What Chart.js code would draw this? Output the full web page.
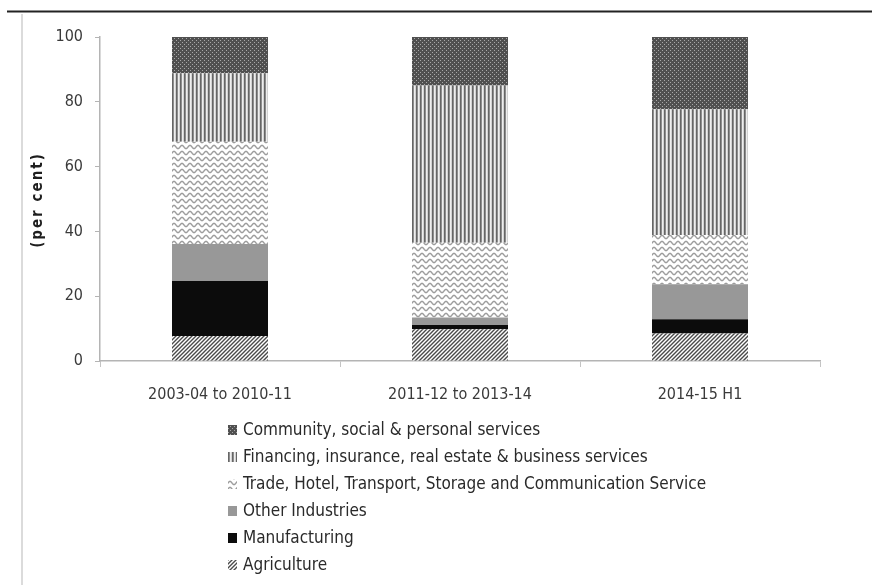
<!DOCTYPE html>
<html>
<head>
<meta charset="utf-8">
<script src="https://cdn.jsdelivr.net/npm/chart.js@4/dist/chart.umd.min.js"></script>
<style>
html,body{margin:0;padding:0;background:#fff;}
#wrap{width:872px;height:585px;}
</style>
</head>
<body>
<div id="wrap"><canvas id="c" width="872" height="585"></canvas></div>
<script>
const categories = ['2003-04 to 2010-11', '2011-12 to 2013-14', '2014-15 H1'];
const agriculture = [7.7, 9.8, 8.5];
const manufacturing = [17.0, 1.3, 4.4];
const otherIndustries = [11.4, 2.3, 10.8];
const tradeServices = [31.6, 23.1, 15.2];
const financingServices = [21.1, 48.5, 38.8];
const communityServices = [11.2, 15.0, 22.3];
const yTicks = [0, 20, 40, 60, 80, 100];
const seriesNames = [
  'Agriculture',
  'Manufacturing',
  'Other Industries',
  'Trade, Hotel, Transport, Storage and Communication Service',
  'Financing, insurance, real estate & business services',
  'Community, social & personal services'
];

const FONT = "'Liberation Sans Narrow', 'DejaVu Sans Condensed', 'Liberation Sans', sans-serif";
const canvas = document.getElementById('c');
const ctx = canvas.getContext('2d');

function makePattern(w, h, draw) {
  const c = document.createElement('canvas');
  c.width = w; c.height = h;
  const g = c.getContext('2d');
  draw(g, w, h);
  return ctx.createPattern(c, 'repeat');
}

const patCommunity = makePattern(4, 4, (g) => {
  g.fillStyle = '#505050'; g.fillRect(0, 0, 4, 4);
  g.fillStyle = '#a8a8a8'; g.fillRect(0, 0, 1, 1); g.fillRect(2, 2, 1, 1);
});
const patFinancing = makePattern(4, 4, (g) => {
  const cols = ['#666666', '#8e8e8e', '#eeeeee', '#d2d2d2'];
  cols.forEach((c, i) => { g.fillStyle = c; g.fillRect(i, 0, 1, 4); });
});
const patTrade = makePattern(8, 6, (g) => {
  g.fillStyle = '#ffffff'; g.fillRect(0, 0, 8, 6);
  g.strokeStyle = '#9c9c9c'; g.lineWidth = 1.4;
  g.beginPath();
  for (let x = -1; x <= 9; x += 0.5) {
    const y = 3 + 1.6 * Math.sin(2 * Math.PI * x / 8);
    if (x === -1) g.moveTo(x, y); else g.lineTo(x, y);
  }
  g.stroke();
});
const patAgri = makePattern(4, 4, (g) => {
  g.fillStyle = '#ffffff'; g.fillRect(0, 0, 4, 4);
  g.strokeStyle = '#4a4a4a'; g.lineWidth = 1.4;
  g.beginPath();
  g.moveTo(-1, 5); g.lineTo(5, -1);
  g.moveTo(-1, 1); g.lineTo(1, -1);
  g.moveTo(3, 5); g.lineTo(5, 3);
  g.stroke();
});

const fills = [patAgri, '#0c0c0c', '#989898', patTrade, patFinancing, patCommunity];
const seriesData = [agriculture, manufacturing, otherIndustries, tradeServices, financingServices, communityServices];

const datasets = seriesNames.map((name, i) => ({
  label: name,
  data: seriesData[i],
  backgroundColor: fills[i],
  borderWidth: 0,
  barPercentage: 0.4,
  categoryPercentage: 1.0
}));

const decorPlugin = {
  id: 'decor',
  beforeDraw(chart) {
    const c = chart.ctx;
    c.save();
    c.fillStyle = '#ffffff';
    c.fillRect(0, 0, chart.width, chart.height);
    c.strokeStyle = '#222';
    c.lineWidth = 2;
    c.beginPath(); c.moveTo(7, 11.5); c.lineTo(872, 11.5); c.stroke();
    c.strokeStyle = '#cfcfcf';
    c.lineWidth = 1.5;
    c.beginPath(); c.moveTo(22, 14); c.lineTo(22, 585); c.stroke();
    c.restore();
  },
  afterDraw(chart) {
    const c = chart.ctx;
    c.save();
    c.translate(38, 200);
    c.rotate(-Math.PI / 2);
    c.font = "bold 15px " + FONT;
    c.fillStyle = '#1e1e1e';
    c.textAlign = 'center';
    c.textBaseline = 'middle';
    c.letterSpacing = '2px';
    c.fillText('(per cent)', 0, 0);
    c.restore();

    c.save();
    c.font = "17px " + FONT;
    c.textBaseline = 'middle';
    const ds = chart.data.datasets;
    let y = 430;
    for (let i = ds.length - 1; i >= 0; i--) {
      c.fillStyle = ds[i].backgroundColor;
      c.fillRect(228, y - 5, 9, 10);
      c.fillStyle = '#2a2a2a';
      c.fillText(ds[i].label, 243, y + 1);
      y += 27;
    }
    c.restore();
  }
};

new Chart(canvas, {
  type: 'bar',
  data: { labels: categories, datasets },
  plugins: [decorPlugin],
  options: {
    responsive: false,
    animation: false,
    devicePixelRatio: 1,
    layout: { padding: { left: 0, right: 52, top: 37, bottom: 164 } },
    plugins: { legend: { display: false }, tooltip: { enabled: false }, title: { display: false } },
    scales: {
      x: {
        stacked: true,
        afterFit(scale) { scale.height = 60; },
        grid: { display: true, offset: true, drawOnChartArea: false, drawTicks: true, tickLength: 6, color: '#c4c4c4' },
        border: { display: true, color: '#b4b4b4', width: 1.5 },
        ticks: { color: '#3a3a3a', font: { family: FONT, size: 16 }, padding: 18, maxRotation: 0 }
      },
      y: {
        stacked: true,
        min: 0, max: 100,
        afterFit(scale) { scale.width = 100; },
        afterBuildTicks(scale) { scale.ticks = yTicks.map(v => ({ value: v })); },
        grid: { display: true, drawOnChartArea: false, drawTicks: true, tickLength: 5, color: '#b4b4b4' },
        border: { display: true, color: '#b4b4b4', width: 1.5 },
        ticks: { color: '#3a3a3a', font: { family: FONT, size: 16 }, padding: 12 }
      }
    }
  }
});
</script>
</body>
</html>
